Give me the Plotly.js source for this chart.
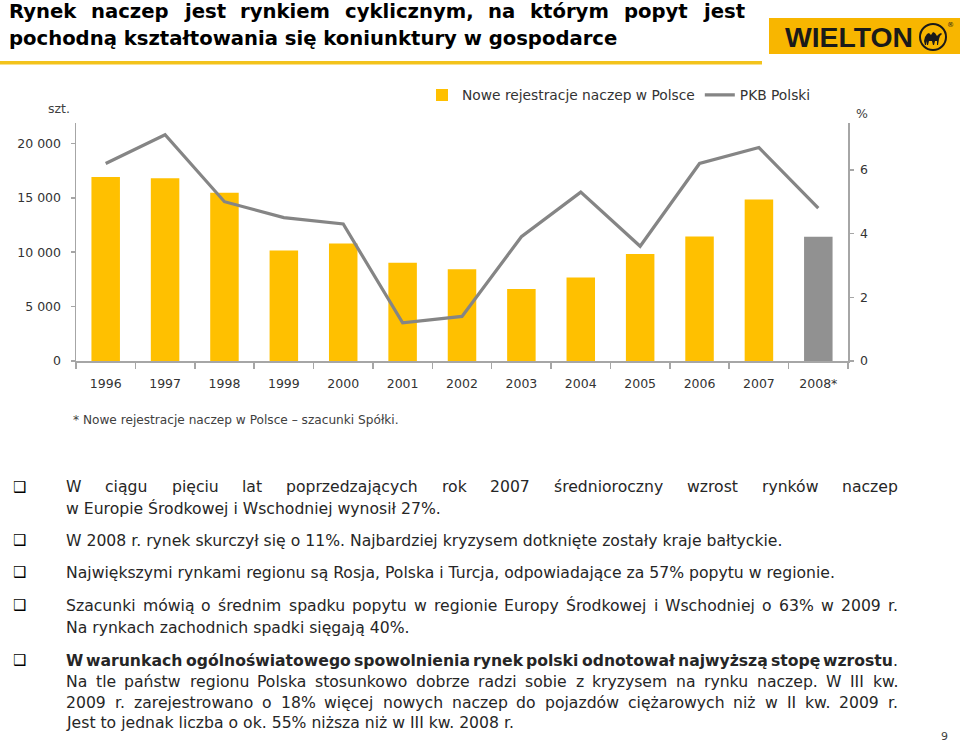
<!DOCTYPE html>
<html><head><meta charset="utf-8">
<script src="https://cdn.plot.ly/plotly-3.0.1.min.js"></script>
<style>html,body{margin:0;padding:0;background:#fff;}#chart{width:960px;height:742px;}</style>
</head><body><div id="chart"></div>
<script>
// ---------- DATA ----------
const years = ["1996","1997","1998","1999","2000","2001","2002","2003","2004","2005","2006","2007","2008*"];
const registrations = [16900,16800,15450,10150,10800,9020,8440,6620,7670,9840,11440,14850,11410];
const gdp = [6.2,7.1,5.0,4.5,4.3,1.2,1.4,3.9,5.3,3.6,6.2,6.7,4.8];
const leftTickVals = [0,5000,10000,15000,20000];
const leftTickText = ["0","5 000","10 000","15 000","20 000"];
const rightTickVals = [0,2,4,6];
const rightTickText = ["0","2","4","6"];
const seriesNames = ["Nowe rejestracje naczep w Polsce","PKB Polski"];
const leftUnit = "szt.";
const rightUnit = "%";
const titleLines = ["Rynek naczep jest rynkiem cyklicznym, na którym popyt jest",
                    "pochodną kształtowania się koniunktury w gospodarce"];
const footnote = "* Nowe rejestracje naczep w Polsce – szacunki Spółki.";
// each bullet: lines; j = justified line
const bullets = [
  [{t:"W ciągu pięciu lat poprzedzających rok 2007 średnioroczny wzrost rynków naczep", j:true},
   {t:"w Europie Środkowej i Wschodniej wynosił 27%."}],
  [{t:"W 2008 r. rynek skurczył się o 11%. Najbardziej kryzysem dotknięte zostały kraje bałtyckie."}],
  [{t:"Największymi rynkami regionu są Rosja, Polska i Turcja, odpowiadające za 57% popytu w regionie."}],
  [{t:"Szacunki mówią o średnim spadku popytu w regionie Europy Środkowej i Wschodniej o 63% w 2009 r.", j:true},
   {t:"Na rynkach zachodnich spadki sięgają 40%."}],
  [{t:"W warunkach ogólnoświatowego spowolnienia rynek polski odnotował najwyższą stopę wzrostu", j:true, bold:true, tail:"."},
   {t:"Na tle państw regionu Polska stosunkowo dobrze radzi sobie z kryzysem na rynku naczep. W III kw.", j:true},
   {t:"2009 r. zarejestrowano o 18% więcej nowych naczep do pojazdów ciężarowych niż w II kw. 2009 r.", j:true},
   {t:"Jest to jednak liczba o ok. 55% niższa niż w III kw. 2008 r."}]
];
const pageNumber = "9";
const logoText = "WIELTON";

// ---------- LAYOUT HELPERS ----------
const W = 960, H = 742;
const FONT = "DejaVu Sans";
const cv = document.createElement("canvas").getContext("2d");
function tw(text, size, bold, fam) {
  cv.font = (bold ? "bold " : "") + size + "px \"" + (fam || FONT) + "\"";
  return cv.measureText(text).width;
}
const px = x => x / W, py = y => 1 - y / H;
const annotations = [];
function ann(text, x, y, size, o) {
  o = o || {};
  annotations.push({xref:"paper", yref:"paper", x:px(x), y:py(y), xanchor:o.xa||"left", yanchor:"middle",
    text:text, showarrow:false, borderpad:0,
    font:{family:o.fam||FONT, size:size, color:o.color||"#262626"}});
}
function justify(words, x0, x1, y, size, bold, color, tail) {
  const ws = words.map((w,i) => tw(w, size, bold) + (i===words.length-1 && tail ? tw(tail,size,false) : 0));
  const total = ws.reduce((a,b)=>a+b,0);
  const gap = (x1 - x0 - total) / (words.length - 1);
  let x = x0;
  words.forEach((w,i) => {
    let txt = bold ? "<b>" + w + "</b>" : w;
    if (i===words.length-1 && tail) txt += tail;
    ann(txt, x, y, size, {color:color});
    x += ws[i] + gap;
  });
}

// title
const titleSize = 20 * 609 / tw(titleLines[1], 20, true);
justify(titleLines[0].split(" "), 8, 743, 12, titleSize, true, "#000");
ann("<b>"+titleLines[1]+"</b>", 8, 39, titleSize, {color:"#000"});

// body
const bodySize = 15 * 717 / tw(bullets[1][0].t, 15, false);
const lineYs = [[487,508],[540],[572],[605,627],[660,681,702,722]];
bullets.forEach((b, bi) => {
  ann("❑", 19, lineYs[bi][0], 15, {xa:"center", color:"#000"});
  b.forEach((ln, li) => {
    const y = lineYs[bi][li];
    if (ln.j) justify(ln.t.split(" "), 65, 897, y, bodySize, !!ln.bold, "#262626", ln.tail);
    else ann(ln.t, 65, y, bodySize);
  });
});
ann(pageNumber, 944, 736, 11, {xa:"center", color:"#404040"});

// chart labels
const noteSize = 13 * 326 / tw(footnote, 13, false);
ann(footnote, 72, 420, noteSize, {color:"#404040"});
ann(leftUnit, 59, 109, 12.5, {xa:"center", color:"#404040"});
ann(rightUnit, 862, 113, 12.5, {xa:"center", color:"#404040"});

// logo
const LOGOFONT = "Liberation Sans";
const logoSize = 30 * 128 / tw(logoText, 30, true, LOGOFONT);
annotations.push({xref:"paper", yref:"paper", x:px(784), y:py(36.5), xanchor:"left", yanchor:"middle",
  text:"<b>"+logoText+"</b>", showarrow:false, borderpad:0,
  font:{family:LOGOFONT, size:logoSize, color:"#1a1a1a"}});
ann("®", 950, 25, 7, {xa:"center", color:"#1a1a1a"});

function pathPx(pts) {
  return pts.map((p,i) => (i ? "L" : "M") + px(p[0]).toFixed(5) + "," + py(p[1]).toFixed(5)).join(" ") + " Z";
}
const camel = [[924,41],[925,37],[927,34],[929,33],[931,35],[933,32],[935,33],[937,36],[939,34],[941,33],[942,34],[940,36],[939,39],
  [938,45],[937,45],[937,41],[935,41],[934,45],[933,45],[932,41],[929,41],[928,45],[927,45],[927,41],[926,45],[925,45]];
const shapes = [
  {type:"rect", xref:"paper", yref:"paper", x0:px(0), x1:px(762), y0:py(61), y1:py(64.5), fillcolor:"#F3C31C", line:{width:0}},
  {type:"rect", xref:"paper", yref:"paper", x0:px(769), x1:px(960), y0:py(18), y1:py(54), fillcolor:"#F8B600", line:{width:0}},
  {type:"circle", xref:"paper", yref:"paper", x0:px(920), x1:px(946), y0:py(24), y1:py(50), fillcolor:"rgba(0,0,0,0)", line:{color:"#1a1a1a", width:2}},
  {type:"path", xref:"paper", yref:"paper", path:pathPx(camel), fillcolor:"#1a1a1a", line:{width:0}}
];

// ---------- CHART ----------
const barColors = years.map(y => y.indexOf("*") >= 0 ? "#919191" : "#FFC000");
const axisCol = "#A6A6A6";
const tickFont = {family:FONT, size:12.5, color:"#333"};
const data = [
  {type:"bar", x:years, y:registrations, name:seriesNames[0], marker:{color:barColors}, yaxis:"y", hoverinfo:"x+y"},
  {type:"scatter", mode:"lines", x:years, y:gdp, name:seriesNames[1], yaxis:"y2", line:{color:"#858585", width:3.2}}
];
const layout = {
  width:W, height:H, margin:{l:0,r:0,t:0,b:0}, paper_bgcolor:"#fff", plot_bgcolor:"rgba(0,0,0,0)",
  font:{family:FONT, color:"#333"},
  bargap:0.52, showlegend:true,
  legend:{orientation:"h", x:px(422), y:py(95), xanchor:"left", yanchor:"middle",
    font:{family:FONT, size:13.8, color:"#333"}, bgcolor:"rgba(0,0,0,0)"},
  xaxis:{domain:[px(76), px(848)], type:"category", showline:true, linecolor:axisCol, linewidth:1.5,
    ticks:"outside", tickson:"boundaries", ticklen:6, tickcolor:axisCol, tickwidth:1.5, tickfont:tickFont,
    ticklabelstandoff:10, showgrid:false, zeroline:false, fixedrange:true},
  yaxis:{domain:[py(361), py(123)], range:[0,21870], tickvals:leftTickVals, ticktext:leftTickText,
    showline:true, linecolor:axisCol, linewidth:1.5, ticks:"outside", ticklen:4, tickcolor:axisCol, tickwidth:1.5,
    tickfont:tickFont, showgrid:false, zeroline:false, ticklabelstandoff:7, fixedrange:true},
  yaxis2:{overlaying:"y", side:"right", range:[0,7.47], tickvals:rightTickVals, ticktext:rightTickText,
    showline:true, linecolor:axisCol, linewidth:1.5, ticks:"outside", ticklen:4, tickcolor:axisCol, tickwidth:1.5,
    tickfont:tickFont, showgrid:false, zeroline:false, ticklabelstandoff:4, fixedrange:true},
  annotations:annotations, shapes:shapes
};
Plotly.newPlot("chart", data, layout, {displayModeBar:false, staticPlot:true});
</script></body></html>
